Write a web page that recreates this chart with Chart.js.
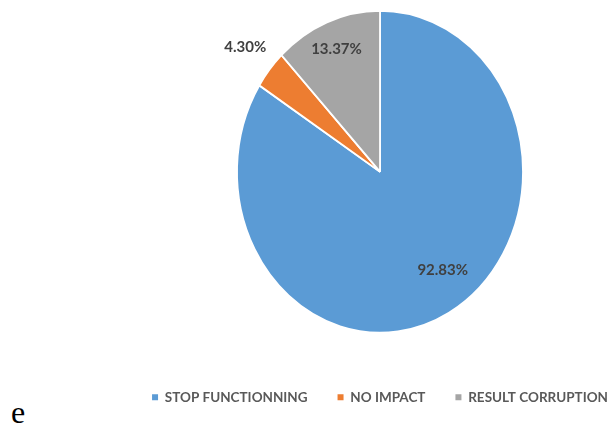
<!DOCTYPE html>
<html>
<head>
<meta charset="utf-8">
<script src="https://cdn.jsdelivr.net/npm/chart.js@4.4.0/dist/chart.umd.min.js"></script>
<style>
  html, body { margin: 0; padding: 0; background: #fff; overflow: hidden; width: 614px; height: 428px; }
  #wrap { position: absolute; left: 73px; top: -17px; width: 614px; height: 444px; }
  #stray { position: absolute; left: 11px; top: 396px; font: 32px "Liberation Serif", serif; line-height: 32px; color: #000; }
</style>
</head>
<body>
<div id="wrap"><canvas id="failPie"></canvas></div>
<div id="stray">e</div>
<script>
let categories = ['STOP FUNCTIONNING', 'NO IMPACT', 'RESULT CORRUPTION'];
let shares = [92.83, 4.30, 13.37];
let shareLabels = ['92.83%', '4.30%', '13.37%'];
let colors = ['#5B9BD5', '#ED7D31', '#A5A5A5'];

// the original pie is squeezed sideways
const squeeze = 143 / 161;
// label placement per slice: fraction of radius, angle shift (deg)
const labelSpots = [[0.75, -7], [1.22, 0], [0.82, 0]];

const squeezePlugin = {
	id: 'squeeze',
	beforeDatasetsDraw(chart) {
		const arc = chart.getDatasetMeta(0).data[0];
		const c = chart.ctx;
		c.save();
		c.translate(arc.x, arc.y);
		c.scale(squeeze, 1);
		c.translate(-arc.x, -arc.y);
	},
	afterDatasetsDraw(chart) {
		const c = chart.ctx;
		c.restore();
		c.save();
		c.font = 'bold 15px Lato';
		c.fillStyle = '#404040';
		c.textAlign = 'center';
		c.textBaseline = 'middle';
		chart.getDatasetMeta(0).data.forEach((arc, i) => {
			const spot = labelSpots[i];
			const mid = (arc.startAngle + arc.endAngle) / 2 + spot[1] * Math.PI / 180;
			const r = arc.outerRadius * spot[0];
			c.fillText(shareLabels[i], arc.x + Math.cos(mid) * r * squeeze, arc.y + Math.sin(mid) * r);
		});
		c.restore();
	},
};

let failPie = new Chart(document.getElementById('failPie').getContext('2d'), {
	type: 'pie',
	data: {
		labels: categories,
		datasets: [
			{
				data: shares,
				backgroundColor: colors,
				borderColor: '#ffffff',
				borderWidth: 2,
			},
		],
	},
	options: {
		responsive: true,
		maintainAspectRatio: false,
		animation: false,
		radius: 161,
		layout: { padding: { left: 0, right: 0, top: 0, bottom: 13 } },
		plugins: {
			tooltip: { enabled: false },
			legend: {
				position: 'bottom',
				labels: {
					boxWidth: 6,
					boxHeight: 6,
					padding: 30,
					color: '#595959',
					font: { family: 'Lato', size: 13.5, weight: 'bold' },
					generateLabels(chart) {
						const items = Chart.overrides.pie.plugins.legend.labels.generateLabels(chart);
						return items.map(it => Object.assign(it, { lineWidth: 0 }));
					},
				},
			},
		},
	},
	plugins: [squeezePlugin],
});
</script>
</body>
</html>
